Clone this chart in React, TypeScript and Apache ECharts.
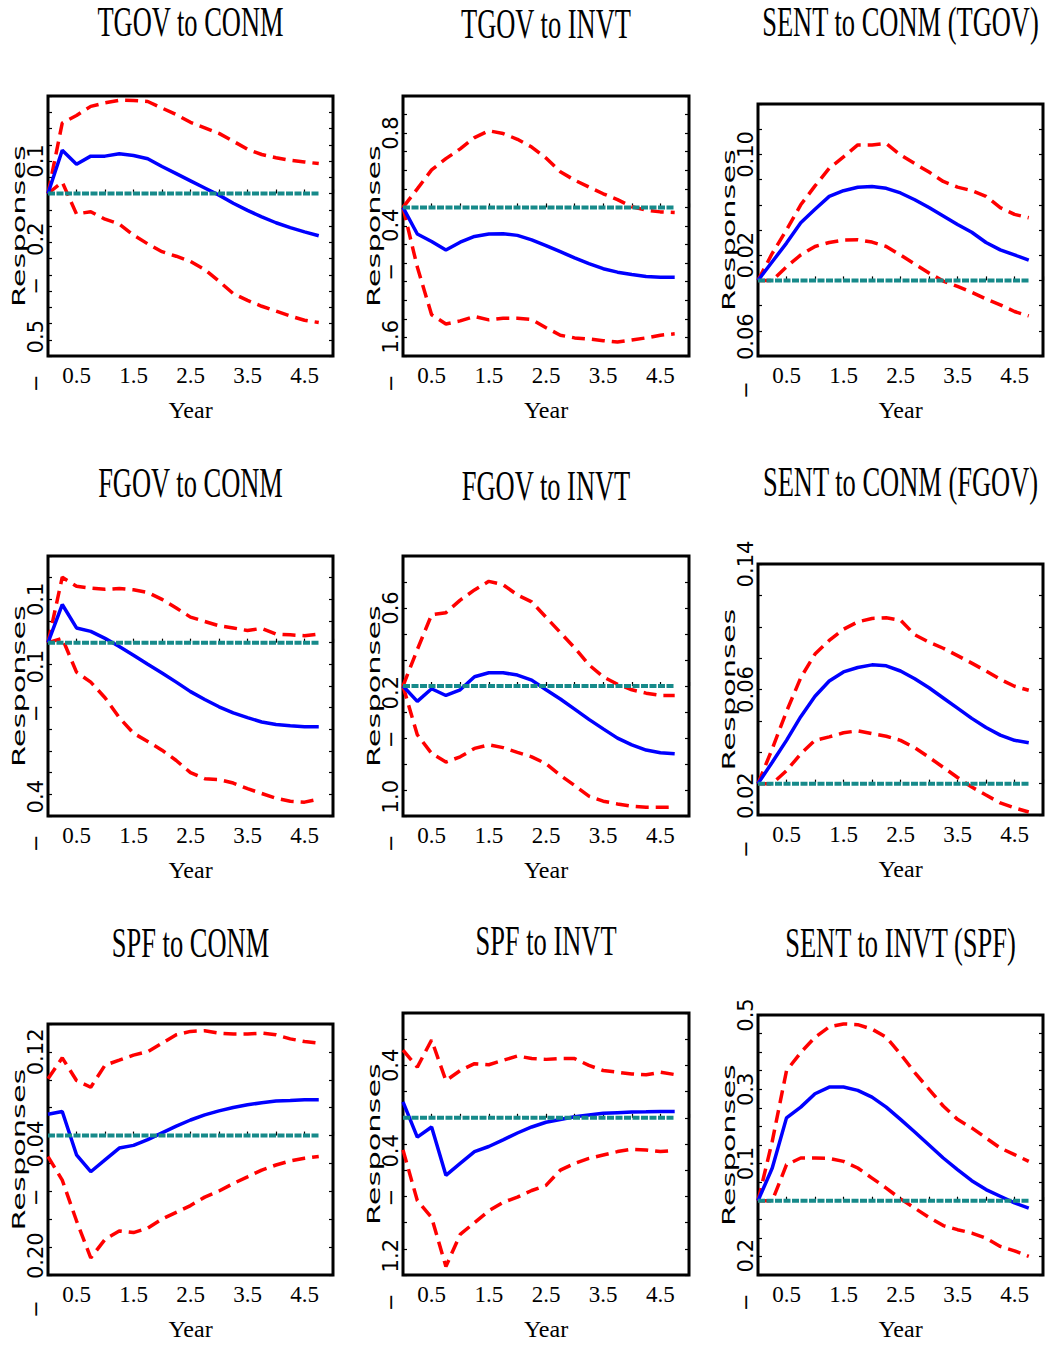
import { useEffect, useRef } from 'react';
import * as echarts from 'echarts';

// ---------------- data ----------------
const quarters = [0, 0.25, 0.5, 0.75, 1, 1.25, 1.5, 1.75, 2, 2.25, 2.5, 2.75, 3, 3.25, 3.5, 3.75, 4, 4.25, 4.5, 4.75];
const xTickLabels = ['0.5', '1.5', '2.5', '3.5', '4.5'];
const zeroLevel = 0;

const titles = [
  'TGOV to CONM', 'TGOV to INVT', 'SENT to CONM (TGOV)',
  'FGOV to CONM', 'FGOV to INVT', 'SENT to CONM (FGOV)',
  'SPF to CONM', 'SPF to INVT', 'SENT to INVT (SPF)',
];

// y axis ranges, tick steps and labelled values per panel
const yMin = [-0.5, -1.6, -0.06, -0.4, -1.0, -0.02, -0.2, -1.2, -0.2];
const yMax = [0.3, 1.2, 0.14, 0.2, 1.0, 0.14, 0.16, 0.8, 0.5];
const yStep = [0.05, 0.2, 0.02, 0.05, 0.2, 0.02, 0.04, 0.2, 0.05];
const yLabelValues = [
  [-0.5, -0.2, 0.1], [-1.6, -0.4, 0.8], [-0.06, 0.02, 0.1],
  [-0.4, -0.1, 0.1], [-1.0, -0.2, 0.6], [-0.02, 0.06, 0.14],
  [-0.2, -0.04, 0.12], [-1.2, -0.4, 0.4], [-0.2, 0.1, 0.3, 0.5],
];
const yLabelTexts = [
  ['−0.5', '−0.2', '0.1'], ['−1.6', '−0.4', '0.8'], ['−0.06', '0.02', '0.10'],
  ['−0.4', '−0.1', '0.1'], ['−1.0', '−0.2', '0.6'], ['−0.02', '0.06', '0.14'],
  ['−0.20', '−0.04', '0.12'], ['−1.2', '−0.4', '0.4'], ['−0.2', '0.1', '0.3', '0.5'],
];

// TGOV to CONM
const tgovConmMean = [0, 0.133, 0.09, 0.115, 0.115, 0.122, 0.117, 0.107, 0.083, 0.061, 0.039, 0.017, -0.005, -0.03, -0.052, -0.072, -0.09, -0.105, -0.118, -0.13];
const tgovConmUpper = [0, 0.217, 0.24, 0.268, 0.279, 0.287, 0.286, 0.283, 0.263, 0.243, 0.219, 0.202, 0.185, 0.161, 0.136, 0.12, 0.11, 0.102, 0.097, 0.092];
const tgovConmLower = [0, 0.035, -0.063, -0.056, -0.079, -0.094, -0.128, -0.155, -0.179, -0.193, -0.209, -0.234, -0.27, -0.308, -0.329, -0.347, -0.362, -0.377, -0.39, -0.397];

// TGOV to INVT
const tgovInvtMean = [0, -0.286, -0.367, -0.459, -0.374, -0.312, -0.286, -0.283, -0.301, -0.349, -0.411, -0.477, -0.543, -0.606, -0.66, -0.697, -0.723, -0.745, -0.752, -0.752];
const tgovInvtUpper = [0, 0.2, 0.404, 0.525, 0.631, 0.752, 0.826, 0.796, 0.734, 0.65, 0.532, 0.385, 0.294, 0.22, 0.147, 0.084, 0.007, -0.029, -0.048, -0.055];
const tgovInvtLower = [0, -0.642, -1.156, -1.255, -1.222, -1.174, -1.211, -1.193, -1.193, -1.207, -1.295, -1.376, -1.405, -1.417, -1.435, -1.45, -1.428, -1.405, -1.376, -1.361];

// SENT to CONM (TGOV)
const sentConmTgovMean = [0, 0.0148, 0.0296, 0.0457, 0.0565, 0.0667, 0.0712, 0.0739, 0.0745, 0.0731, 0.0694, 0.064, 0.0578, 0.0511, 0.0444, 0.0382, 0.0301, 0.0242, 0.0202, 0.0161];
const sentConmTgovUpper = [0, 0.0215, 0.04, 0.06, 0.075, 0.089, 0.098, 0.1075, 0.1075, 0.1086, 0.0995, 0.0927, 0.086, 0.0785, 0.074, 0.0712, 0.0667, 0.0578, 0.0524, 0.0497];
const sentConmTgovLower = [0, 0, 0.0108, 0.0202, 0.0269, 0.0301, 0.032, 0.0323, 0.0304, 0.0269, 0.0202, 0.0129, 0.0059, -0.0005, -0.0048, -0.0094, -0.0148, -0.0194, -0.0247, -0.0282];

// FGOV to CONM
const fgovConmMean = [0, 0.088, 0.034, 0.026, 0.01, -0.009, -0.029, -0.05, -0.07, -0.091, -0.113, -0.131, -0.148, -0.162, -0.173, -0.183, -0.189, -0.192, -0.194, -0.194];
const fgovConmUpper = [0, 0.151, 0.13, 0.126, 0.123, 0.125, 0.122, 0.116, 0.1, 0.08, 0.059, 0.049, 0.039, 0.034, 0.028, 0.033, 0.02, 0.018, 0.016, 0.02];
const fgovConmLower = [0, 0.01, -0.068, -0.091, -0.127, -0.173, -0.209, -0.228, -0.248, -0.272, -0.3, -0.314, -0.316, -0.324, -0.337, -0.348, -0.359, -0.366, -0.368, -0.361];

// FGOV to INVT
const fgovInvtMean = [0, -0.118, -0.021, -0.073, -0.029, 0.071, 0.102, 0.102, 0.084, 0.045, -0.029, -0.1, -0.178, -0.257, -0.33, -0.401, -0.453, -0.493, -0.514, -0.522];
const fgovInvtUpper = [0, 0.28, 0.548, 0.564, 0.661, 0.739, 0.805, 0.779, 0.7, 0.647, 0.529, 0.412, 0.294, 0.163, 0.071, 0.013, -0.029, -0.055, -0.073, -0.073];
const fgovInvtLower = [0, -0.375, -0.519, -0.585, -0.545, -0.48, -0.453, -0.474, -0.51, -0.545, -0.598, -0.687, -0.765, -0.847, -0.886, -0.907, -0.925, -0.933, -0.933, -0.931];

// SENT to CONM (FGOV)
const sentConmFgovMean = [0, 0.0136, 0.0276, 0.0427, 0.0557, 0.0654, 0.0712, 0.074, 0.0757, 0.0751, 0.0718, 0.0669, 0.0611, 0.0546, 0.0481, 0.0416, 0.0358, 0.0309, 0.0276, 0.0261];
const sentConmFgovUpper = [0, 0.0222, 0.046, 0.0675, 0.0826, 0.0913, 0.0984, 0.1031, 0.1053, 0.1057, 0.1042, 0.0949, 0.0902, 0.0863, 0.0816, 0.0768, 0.0718, 0.0665, 0.0621, 0.0595];
const sentConmFgovLower = [0, 0, 0.0082, 0.019, 0.0276, 0.0298, 0.0324, 0.0337, 0.0319, 0.0302, 0.0276, 0.0229, 0.0168, 0.0104, 0.0039, -0.0022, -0.0073, -0.0123, -0.0155, -0.0181];

// SPF to CONM
const spfConmMean = [0.0306, 0.0344, -0.0276, -0.0519, -0.0349, -0.0179, -0.0141, -0.0058, 0.0039, 0.0136, 0.0223, 0.0296, 0.0354, 0.0403, 0.0441, 0.047, 0.0495, 0.0504, 0.0514, 0.0514];
const spfConmUpper = [0.0815, 0.1115, 0.079, 0.0693, 0.1009, 0.1081, 0.1154, 0.1203, 0.1324, 0.1445, 0.1494, 0.1503, 0.1469, 0.1455, 0.1455, 0.1469, 0.1445, 0.1387, 0.1348, 0.1324];
const spfConmLower = [-0.0301, -0.064, -0.1222, -0.1756, -0.1489, -0.1368, -0.1392, -0.1329, -0.1198, -0.1101, -0.1004, -0.0883, -0.0795, -0.0688, -0.0592, -0.0495, -0.0422, -0.0364, -0.0325, -0.0301];

// SPF to INVT
const spfInvtMean = [0.121, -0.147, -0.07, -0.439, -0.348, -0.258, -0.219, -0.168, -0.116, -0.07, -0.034, -0.013, 0.008, 0.021, 0.034, 0.039, 0.044, 0.046, 0.049, 0.049];
const spfInvtUpper = [0.516, 0.387, 0.594, 0.284, 0.361, 0.413, 0.405, 0.439, 0.472, 0.452, 0.446, 0.452, 0.452, 0.4, 0.361, 0.348, 0.335, 0.328, 0.348, 0.33];
const spfInvtLower = [-0.245, -0.632, -0.761, -1.135, -0.89, -0.8, -0.71, -0.645, -0.606, -0.555, -0.516, -0.4, -0.348, -0.31, -0.284, -0.258, -0.24, -0.245, -0.258, -0.25];

// SENT to INVT (SPF)
const sentInvtSpfMean = [0, 0.088, 0.223, 0.252, 0.288, 0.306, 0.306, 0.297, 0.279, 0.252, 0.219, 0.185, 0.15, 0.115, 0.084, 0.054, 0.03, 0.012, -0.006, -0.02];
const sentInvtSpfUpper = [0, 0.16, 0.35, 0.399, 0.44, 0.468, 0.476, 0.474, 0.462, 0.44, 0.395, 0.345, 0.3, 0.255, 0.219, 0.196, 0.169, 0.142, 0.124, 0.106];
const sentInvtSpfLower = [0, 0, 0.097, 0.115, 0.115, 0.114, 0.106, 0.088, 0.061, 0.034, 0.005, -0.02, -0.045, -0.067, -0.078, -0.087, -0.101, -0.123, -0.135, -0.15];

const panelMeans = [tgovConmMean, tgovInvtMean, sentConmTgovMean, fgovConmMean, fgovInvtMean, sentConmFgovMean, spfConmMean, spfInvtMean, sentInvtSpfMean];
const panelUppers = [tgovConmUpper, tgovInvtUpper, sentConmTgovUpper, fgovConmUpper, fgovInvtUpper, sentConmFgovUpper, spfConmUpper, spfInvtUpper, sentInvtSpfUpper];
const panelLowers = [tgovConmLower, tgovInvtLower, sentConmTgovLower, fgovConmLower, fgovInvtLower, sentConmFgovLower, spfConmLower, spfInvtLower, sentInvtSpfLower];

// ---------------- layout ----------------
const GRIDS = [
  { left: 48, top: 96, width: 285, height: 260 },
  { left: 403, top: 96, width: 286, height: 260 },
  { left: 758, top: 104, width: 285, height: 252 },
  { left: 48, top: 556, width: 285, height: 260 },
  { left: 403, top: 556, width: 286, height: 260 },
  { left: 758, top: 564, width: 285, height: 251 },
  { left: 48, top: 1024, width: 285, height: 251 },
  { left: 403, top: 1013, width: 286, height: 262 },
  { left: 758, top: 1015, width: 285, height: 260 },
];
const TITLE_Y = [22, 24, 22, 483, 486, 482, 943, 941, 943];

const RED = '#ff0000';
const BLUE = '#0000ff';
const TEAL = '#178a8a';

function buildOption() {
  const grid: any[] = [];
  const xAxis: any[] = [];
  const yAxis: any[] = [];
  const series: any[] = [];
  const graphic: any[] = [];

  GRIDS.forEach((g, k) => {
    grid.push({ ...g, show: true, borderColor: '#000', borderWidth: 3, backgroundColor: 'transparent', containLabel: false });
    xAxis.push({
      type: 'value', gridIndex: k, min: 0, max: 5, interval: 0.5,
      axisLine: { show: false },
      axisTick: { show: true, inside: true, length: 4, lineStyle: { color: '#000', width: 1.2 } },
      splitLine: { show: false },
      axisLabel: {
        show: true, margin: 8, color: '#000', fontFamily: 'Liberation Serif', fontSize: 23,
        formatter: (v: number) => xTickLabels.find((t) => Math.abs(parseFloat(t) - v) < 1e-6) ?? '',
      },
      name: 'Year', nameLocation: 'middle', nameGap: 42,
      nameTextStyle: { fontFamily: 'Liberation Serif', fontSize: 24, color: '#000' },
    });
    const step = yStep[k];
    const labFmt = (v: number) => {
      const idx = yLabelValues[k].findIndex((lv) => Math.abs(lv - v) < step / 10);
      if (idx < 0) return '';
      const t = yLabelTexts[k][idx];
      return t.startsWith('−') ? '−\u2003' + t.slice(1) : t;
    };
    yAxis.push({
      type: 'value', gridIndex: k, position: 'left', min: yMin[k], max: yMax[k], interval: step,
      axisLine: { show: false },
      axisTick: { show: true, inside: true, length: 4, lineStyle: { color: '#000', width: 1.2 } },
      splitLine: { show: false },
      axisLabel: { show: true, rotate: 90, margin: 2, color: '#000', fontFamily: 'DejaVu Sans', fontSize: 21, formatter: labFmt },
    });
    yAxis.push({
      type: 'value', gridIndex: k, position: 'right', min: yMin[k], max: yMax[k], interval: step,
      axisLine: { show: false },
      axisTick: { show: true, inside: true, length: 4, lineStyle: { color: '#000', width: 1.2 } },
      splitLine: { show: false },
      axisLabel: { show: false },
    });

    const mk = (arr: number[]) => quarters.map((x, i) => [x, arr[i]]);
    const base = { type: 'line', xAxisIndex: k, yAxisIndex: 2 * k, symbol: 'none', silent: true, animation: false };
    series.push({ ...base, name: `upper${k}`, data: mk(panelUppers[k]), lineStyle: { color: RED, width: 3.5, type: [13, 7] }, z: 2 });
    series.push({ ...base, name: `lower${k}`, data: mk(panelLowers[k]), lineStyle: { color: RED, width: 3.5, type: [13, 7] }, z: 2 });
    series.push({ ...base, name: `mean${k}`, data: mk(panelMeans[k]), lineStyle: { color: BLUE, width: 3.5 }, z: 3 });
    series.push({
      ...base, name: `zero${k}`,
      data: [[quarters[0], zeroLevel], [quarters[quarters.length - 1], zeroLevel]],
      lineStyle: { color: TEAL, width: 4, type: [7, 1.5] }, z: 4,
    });

    graphic.push({
      type: 'text', x: g.left + g.width / 2, y: TITLE_Y[k], scaleX: 0.63, silent: true,
      style: { text: titles[k], font: 'normal 42px "Liberation Serif"', fill: '#000', textAlign: 'center', textVerticalAlign: 'middle', align: 'center', verticalAlign: 'middle' },
    });
    graphic.push({
      type: 'text', x: g.left - 29.5, y: g.top + g.height / 2, rotation: Math.PI / 2, scaleX: 1.69, silent: true,
      style: { text: 'Responses', font: 'normal 18px "DejaVu Sans"', fill: '#000', textAlign: 'center', textVerticalAlign: 'middle', align: 'center', verticalAlign: 'middle' },
    });
  });

  return { animation: false, backgroundColor: '#ffffff', grid, xAxis, yAxis, series, graphic };
}

export default function App() {
  const ref = useRef<HTMLDivElement>(null);
  useEffect(() => {
    if (!ref.current) return;
    const chart = echarts.init(ref.current, undefined, { renderer: 'svg' });
    chart.setOption(buildOption() as any);
    return () => chart.dispose();
  }, []);
  return (
    <div
      ref={ref}
      style={{ position: 'fixed', left: 0, top: 0, width: 1046, height: 1345, background: '#fff' }}
    />
  );
}
